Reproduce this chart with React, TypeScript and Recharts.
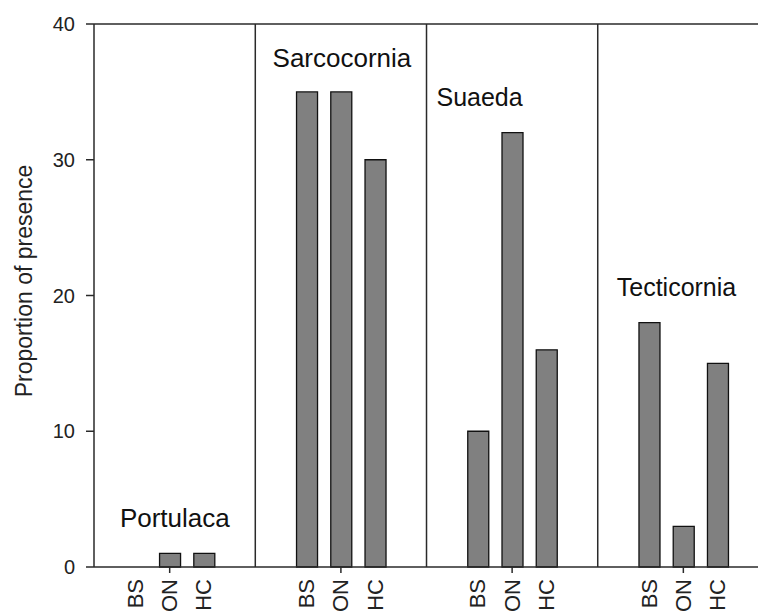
import { BarChart, Bar, XAxis, YAxis, ReferenceLine, ReferenceDot, Label } from 'recharts';

const genera = ['Portulaca', 'Sarcocornia', 'Suaeda', 'Tecticornia'];
const treatments = ['BS', 'ON', 'HC'];
const portulaca = [0, 1, 1];
const sarcocornia = [35, 35, 30];
const suaeda = [10, 32, 16];
const tecticornia = [18, 3, 15];
const yTicks = [0, 10, 20, 30, 40];

const seriesByGenus = [portulaca, sarcocornia, suaeda, tecticornia];
const SLOTS = 5; // 3 bars + 2 empty slots per panel

const chartData = seriesByGenus.flatMap((vals, g) =>
  vals.map((v, k) => ({ pos: g * SLOTS + k, value: v, label: treatments[k] }))
);
const tickPositions = chartData.map((d) => d.pos);
const dividers = genera.slice(1).map((_, g) => g * SLOTS + 3.5);

// where each panel name sits, in chart units
const nameSpots: Record<string, { x: number; y: number; size: number }> = {
  Portulaca: { x: 1.15, y: 3.6, size: 26 },
  Sarcocornia: { x: 6.03, y: 37.5, size: 26 },
  Suaeda: { x: 10.05, y: 34.6, size: 25 },
  Tecticornia: { x: 15.8, y: 20.6, size: 25 },
};

const axisColor = '#2a2a2a';
const font = '"Liberation Sans", Arial, sans-serif';

const XTick = ({ x, y, payload }: any) => {
  const d = chartData.find((r) => r.pos === payload.value);
  if (!d) return null;
  return (
    <g>
      {d.label === 'ON' && <line x1={x} x2={x} y1={y - 8} y2={y - 2} stroke={axisColor} strokeWidth={1.5} />}
      <text
        transform={`translate(${x},${y + 4}) rotate(-90)`}
        textAnchor="end"
        dominantBaseline="central"
        fontSize={22}
        fontFamily={font}
        fill="#222"
      >
        {d.label}
      </text>
    </g>
  );
};

const YTitle = () => (
  <text
    transform="translate(24,281) rotate(-90)"
    textAnchor="middle"
    dominantBaseline="central"
    fontSize={23}
    fontFamily={font}
    fill="#222"
  >
    Proportion of presence
  </text>
);

export default function App() {
  return (
    <div style={{ position: 'absolute', left: 0, top: 0, width: 758, height: 611, overflow: 'hidden', background: '#fff' }}>
      <BarChart
        width={758}
        height={611}
        data={chartData}
        margin={{ top: 24, right: 0, bottom: 0, left: 0 }}
      >
        <XAxis
          dataKey="pos"
          type="number"
          domain={[-1.21, 18.18]}
          allowDataOverflow
          ticks={tickPositions}
          interval={0}
          tick={<XTick />}
          tickLine={false}
          height={44}
          axisLine={{ stroke: axisColor, strokeWidth: 1.5 }}
        />
        <YAxis
          type="number"
          domain={[0, 40]}
          ticks={yTicks}
          width={94}
          tickSize={8}
          tickMargin={11}
          tickLine={{ stroke: axisColor, strokeWidth: 1.5 }}
          axisLine={{ stroke: axisColor, strokeWidth: 1.5 }}
          tick={{ fontSize: 20, fill: '#222', fontFamily: font }}
        >
          <Label content={<YTitle />} />
        </YAxis>
        <ReferenceLine y={40} stroke={axisColor} strokeWidth={1.5} />
        {dividers.map((x) => (
          <ReferenceLine key={x} x={x} stroke={axisColor} strokeWidth={1.5} />
        ))}
        <Bar dataKey="value" barSize={21} fill="#808080" stroke="#111" strokeWidth={1.3} isAnimationActive={false} />
        {genera.map((name) => (
          <ReferenceDot
            key={name}
            x={nameSpots[name].x}
            y={nameSpots[name].y}
            r={0}
            fill="none"
            stroke="none"
            label={{ value: name, position: 'center', fontSize: nameSpots[name].size, fill: '#111', fontFamily: font }}
          />
        ))}
      </BarChart>
    </div>
  );
}
